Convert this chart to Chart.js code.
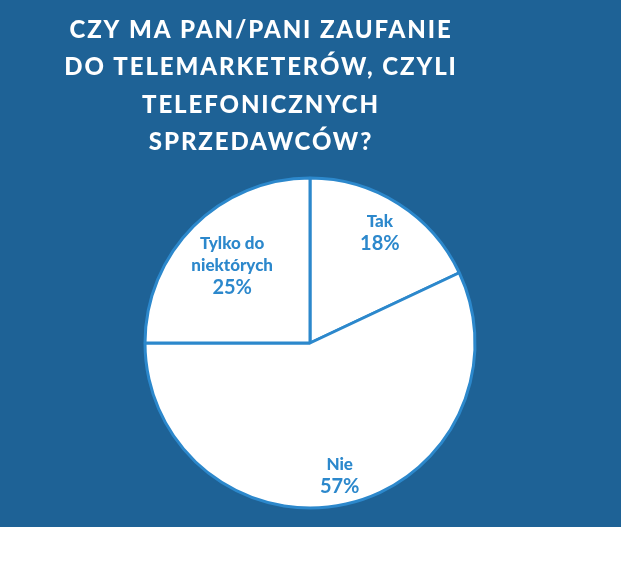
<!DOCTYPE html>
<html>
<head>
<meta charset="utf-8">
<script src="https://cdn.jsdelivr.net/npm/chart.js@4/dist/chart.umd.min.js"></script>
<style>
  html, body { margin:0; padding:0; background:#fff; }
  canvas { display:block; }
</style>
</head>
<body>
<canvas id="pie" width="621" height="565"></canvas>
<script>
// Ankieta — zaufanie do telemarketerów
const titleLines = ['CZY MA PAN/PANI ZAUFANIE', 'DO TELEMARKETERÓW, CZYLI', 'TELEFONICZNYCH', 'SPRZEDAWCÓW?'];
const categories = ['Tak', 'Nie', ['Tylko do', 'niektórych']];
const shares = [18, 57, 25];

const BLUE_BG = '#1e6296';
const BLUE_LINE = '#2c88cc';

// tło + tytuł
const backdrop = {
  id: 'backdrop',
  beforeDraw(chart){
    const ctx = chart.ctx;
    ctx.save();
    ctx.fillStyle = '#fff';
    ctx.fillRect(0, 0, chart.width, chart.height);
    ctx.fillStyle = BLUE_BG;
    ctx.fillRect(0, 0, chart.width, 527);
    ctx.fillStyle = '#fff';
    ctx.font = '900 24px Lato';
    ctx.letterSpacing = '1.9px';
    ctx.textAlign = 'center';
    ctx.textBaseline = 'alphabetic';
    titleLines.forEach((t, i) => ctx.fillText(t, 261, 38 + i * 37.3));
    ctx.restore();
  }
};

// etykiety w środku wycinków
const sliceLabels = {
  id: 'sliceLabels',
  afterDatasetsDraw(chart, args, opts){
    const ctx = chart.ctx;
    const meta = chart.getDatasetMeta(0);
    ctx.save();
    ctx.fillStyle = BLUE_LINE;
    ctx.textAlign = 'center';
    ctx.textBaseline = 'middle';
    meta.data.forEach((arc, i) => {
      const mid = (arc.startAngle + arc.endAngle) / 2;
      const r = arc.outerRadius * opts.depth[i];
      const x = arc.x + Math.cos(mid) * r;
      const y = arc.y + Math.sin(mid) * r;
      const name = chart.data.labels[i];
      const lines = (Array.isArray(name) ? name : [name]).slice();
      lines.push(shares[i] + '%');
      lines.forEach((t, j) => {
        const last = j === lines.length - 1;
        ctx.font = last ? 'bold 20px Lato' : '900 17px Lato';
        ctx.fillText(t, x, y + (j - (lines.length - 1) / 2) * 22);
      });
    });
    ctx.restore();
  }
};

new Chart(document.getElementById('pie').getContext('2d'), {
  type: 'pie',
  data: {
    labels: categories,
    datasets: [{
      data: shares,
      backgroundColor: '#ffffff',
      borderColor: BLUE_LINE,
      borderWidth: 3,
      hoverOffset: 0,
      radius: 165
    }]
  },
  options: {
    responsive: false,
    animation: false,
    layout: { padding: { left: 0, right: 1, top: 160, bottom: 39 } },
    plugins: {
      legend: { display: false },
      tooltip: { enabled: false },
      sliceLabels: { depth: [0.79, 0.825, 0.667] }
    }
  },
  plugins: [backdrop, sliceLabels]
});
</script>
</body>
</html>
